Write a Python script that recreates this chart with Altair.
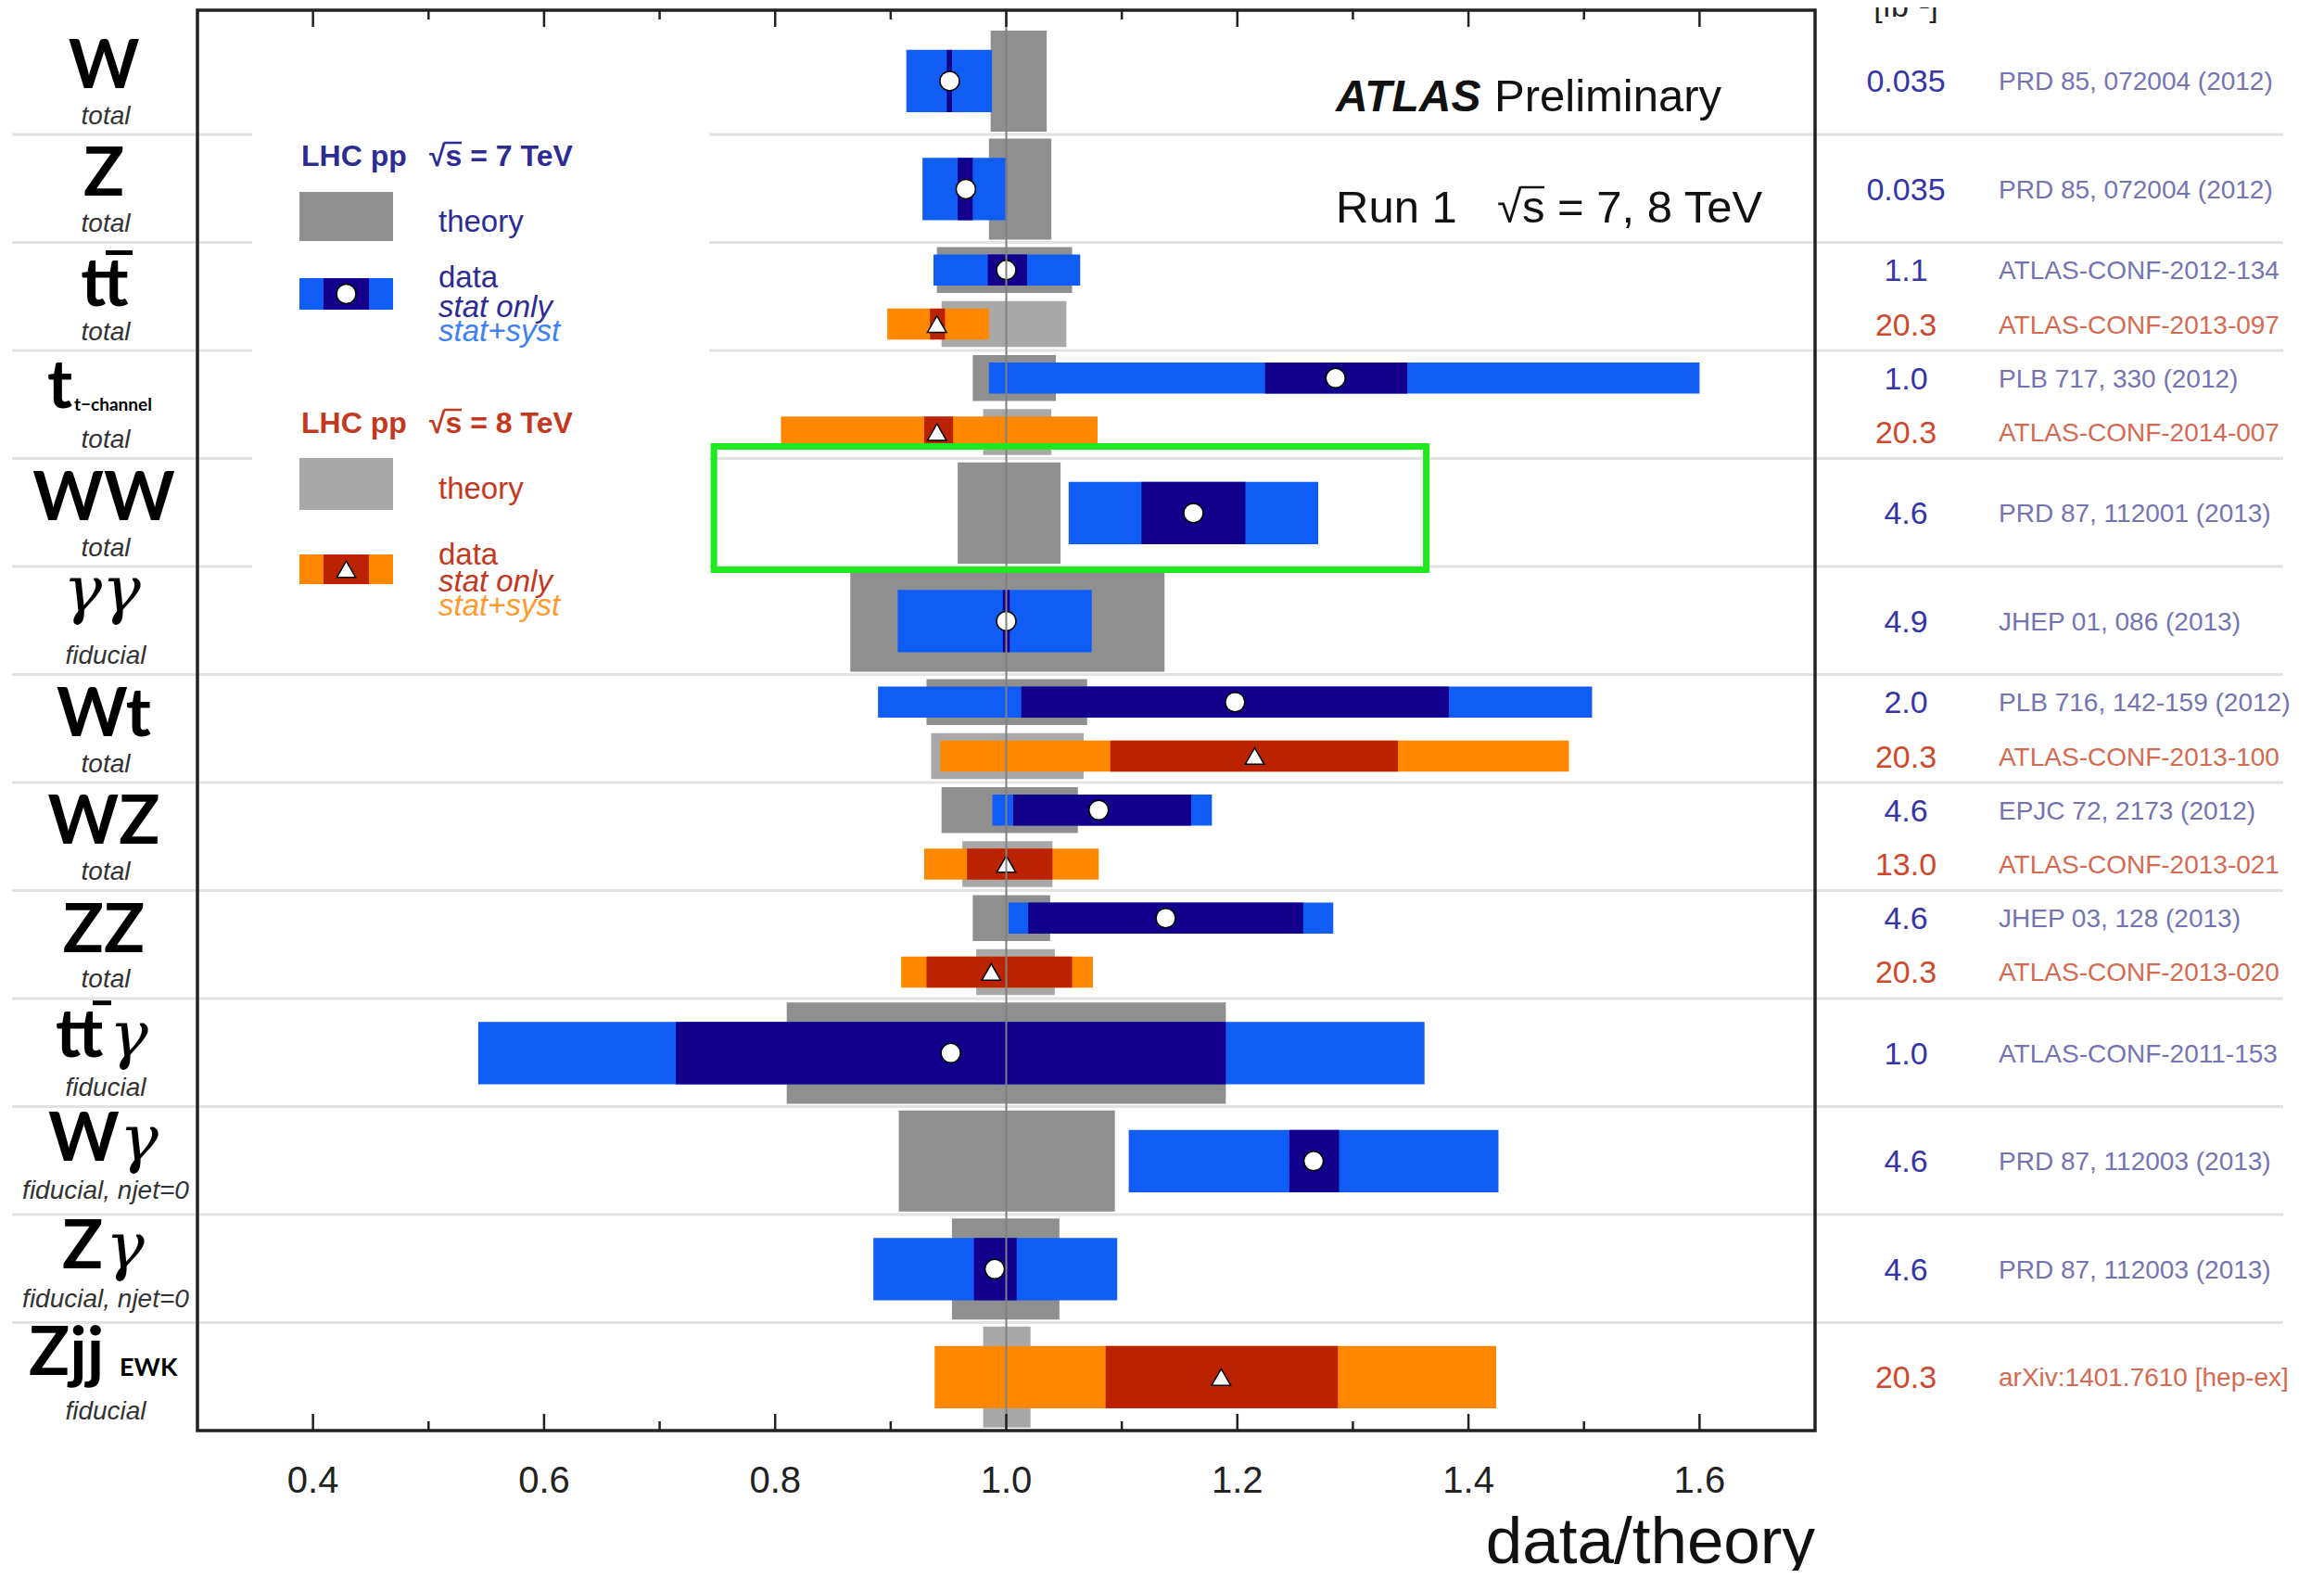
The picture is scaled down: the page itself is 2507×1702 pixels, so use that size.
import altair as alt
import pandas as pd

# ---------------- chart content ----------------
process_main = ["W", "Z", "tt", "t", "WW", "", "Wt", "WZ", "ZZ", "tt", "W", "Z", "Zjj"]
process_greek = ["", "", "", "", "", "γγ", "", "", "", "γ", "γ", "γ", ""]
process_sub = ["", "", "", "t−channel", "", "", "", "", "", "", "", "", "EWK"]
process_scope = ["total", "total", "total", "total", "total", "fiducial", "total", "total",
                 "total", "fiducial", "fiducial, njet=0", "fiducial, njet=0", "fiducial"]

meas_row = [0, 1, 2, 2, 3, 3, 4, 5, 6, 6, 7, 7, 8, 8, 9, 10, 11, 12]
meas_energy = [7, 7, 7, 8, 7, 8, 7, 7, 7, 8, 7, 8, 7, 8, 7, 7, 7, 8]
theory_lo = [0.9865, 0.985, 0.940, 0.944, 0.971, 0.980, 0.958, 0.865, 0.931, 0.935,
             0.944, 0.962, 0.971, 0.974, 0.810, 0.907, 0.953, 0.980]
theory_hi = [1.035, 1.039, 1.057, 1.052, 1.043, 1.039, 1.047, 1.137, 1.070, 1.067,
             1.062, 1.040, 1.038, 1.042, 1.190, 1.094, 1.046, 1.021]
central = [0.951, 0.965, 1.000, 0.940, 1.285, 0.940, 1.162, 1.000, 1.198, 1.215,
           1.080, 1.000, 1.138, 0.987, 0.952, 1.266, 0.990, 1.186]
stat_lo = [0.9485, 0.958, 0.984, 0.934, 1.224, 0.929, 1.117, 0.997, 1.013, 1.090,
           1.006, 0.966, 1.019, 0.931, 0.714, 1.245, 0.972, 1.086]
stat_hi = [0.953, 0.971, 1.018, 0.947, 1.347, 0.954, 1.207, 1.003, 1.383, 1.339,
           1.160, 1.040, 1.257, 1.057, 1.190, 1.288, 1.009, 1.287]
total_lo = [0.9135, 0.9275, 0.937, 0.897, 0.985, 0.805, 1.054, 0.906, 0.889, 0.943,
            0.988, 0.929, 1.002, 0.909, 0.543, 1.106, 0.885, 0.938]
total_hi = [0.9876, 1.0006, 1.064, 0.985, 1.600, 1.079, 1.270, 1.074, 1.507, 1.487,
            1.178, 1.080, 1.283, 1.075, 1.362, 1.426, 1.096, 1.424]
lumi_fb = ["0.035", "0.035", "1.1", "20.3", "1.0", "20.3", "4.6", "4.9", "2.0", "20.3",
           "4.6", "13.0", "4.6", "20.3", "1.0", "4.6", "4.6", "20.3"]
references = ["PRD 85, 072004 (2012)", "PRD 85, 072004 (2012)", "ATLAS-CONF-2012-134",
              "ATLAS-CONF-2013-097", "PLB 717, 330 (2012)", "ATLAS-CONF-2014-007",
              "PRD 87, 112001 (2013)", "JHEP 01, 086 (2013)", "PLB 716, 142-159 (2012)",
              "ATLAS-CONF-2013-100", "EPJC 72, 2173 (2012)", "ATLAS-CONF-2013-021",
              "JHEP 03, 128 (2013)", "ATLAS-CONF-2013-020", "ATLAS-CONF-2011-153",
              "PRD 87, 112003 (2013)", "PRD 87, 112003 (2013)", "arXiv:1401.7610 [hep-ex]"]
x_major_ticks = [0.4, 0.6, 0.8, 1.0, 1.2, 1.4, 1.6]
x_minor_ticks = [0.5, 0.7, 0.9, 1.1, 1.3, 1.5]
x_tick_labels = ["0.4", "0.6", "0.8", "1.0", "1.2", "1.4", "1.6"]
highlight_x = [0.747, 1.3635]     # green box around WW
highlight_rows = [3.888, 5.029]

# ---------------- layout / style ----------------
W, H = 1745, 1532
N_ROWS = len(process_main)
xscale = alt.Scale(domain=[0.3, 1.7], nice=False, zero=False)
yscale = alt.Scale(domain=[-0.151, N_ROWS], reverse=True, nice=False, zero=False)

C = {
    "th7": "#8f8f8f", "th8": "#a8a8a8",
    "tot7": "#0f5df5", "tot8": "#ff8800",
    "stat7": "#12008c", "stat8": "#bb2300",
    "txt7": "#2c2c94", "txt8": "#c3381f",
    "syst7": "#3d80f7", "syst8": "#ff9a30",
    "lumi7": "#3535a8", "lumi8": "#cf472d",
    "ref7": "#7474b4", "ref8": "#d46a52",
}
SANS = "Liberation Sans"

# build measurement table
counts = {r: meas_row.count(r) for r in set(meas_row)}
seen = {}
recs = []
for i, r in enumerate(meas_row):
    k = seen.get(r, 0)
    seen[r] = k + 1
    if counts[r] == 1:
        c, th_h, d_h = r + 0.505, 0.468, 0.288
    else:
        c, th_h, d_h = r + 0.255 + 0.5 * k, 0.212, 0.143
    e = meas_energy[i]
    recs.append(dict(
        e=e, c=c, th1=c - th_h, th2=c + th_h, d1=c - d_h, d2=c + d_h,
        thlo=theory_lo[i], thhi=theory_hi[i], cen=central[i],
        slo=stat_lo[i], shi=stat_hi[i], tlo=total_lo[i], thi=total_hi[i],
        lumi=lumi_fb[i], ref=references[i],
        cth=C["th%d" % e], ctot=C["tot%d" % e], cstat=C["stat%d" % e],
    ))
M = pd.DataFrame(recs)

one = pd.DataFrame({"a": [0]})


def band(lo, hi, y1, y2, col):
    return alt.Chart(M).mark_rect().encode(
        x=alt.X(lo + ":Q", scale=xscale, axis=None), x2=hi + ":Q",
        y=alt.Y(y1 + ":Q", scale=yscale, axis=None), y2=y2 + ":Q",
        color=alt.Color(col + ":N", scale=None))


def ptext(rows, size, color, align="left", style="normal", weight="bold", font=SANS):
    df = pd.DataFrame(rows, columns=["x", "y", "t"])
    return alt.Chart(df).mark_text(font=font, fontSize=size, color=color, align=align,
                                   fontStyle=style, fontWeight=weight, baseline="alphabetic").encode(
        x=alt.X("x:Q", scale=None, axis=None), y=alt.Y("y:Q", scale=None, axis=None), text="t:N")


def prule(rows, color, width):
    df = pd.DataFrame(rows, columns=["x", "x2", "y"])
    return alt.Chart(df).mark_rule(color=color, strokeWidth=width).encode(
        x=alt.X("x:Q", scale=None, axis=None), x2="x2:Q", y=alt.Y("y:Q", scale=None, axis=None))


layers = []

# row separators
sep = pd.DataFrame({"b": list(range(1, N_ROWS))})
layers.append(alt.Chart(sep).mark_rule(color="#e2e2e2", strokeWidth=3).encode(
    y=alt.Y("b:Q", scale=yscale, axis=None), x=alt.value(-200), x2=alt.value(2250)))

# legend background box
layers.append(alt.Chart(one).mark_rect(color="white").encode(
    x=alt.value(59), x2=alt.value(552), y=alt.value(124), y2=alt.value(679)))

# bands
layers.append(band("thlo", "thhi", "th1", "th2", "cth"))
layers.append(band("tlo", "thi", "d1", "d2", "ctot"))
layers.append(band("slo", "shi", "d1", "d2", "cstat"))

# markers
for e, shape in ((7, "circle"), (8, "triangle-up")):
    layers.append(alt.Chart(M[M.e == e]).mark_point(
        shape=shape, filled=True, fill="white", stroke="black", strokeWidth=1.5,
        size=440 if e == 7 else 420, opacity=1).encode(
        x=alt.X("cen:Q", scale=xscale, axis=None), y=alt.Y("c:Q", scale=yscale, axis=None)))

# line at data/theory = 1
layers.append(alt.Chart(pd.DataFrame({"v": [1.0]})).mark_rule(color="#808080", strokeWidth=2).encode(
    x=alt.X("v:Q", scale=xscale, axis=None), y=alt.value(0), y2=alt.value(H)))

# frame and ticks
layers.append(alt.Chart(one).mark_rect(fillOpacity=0, stroke="#222222", strokeWidth=3.5).encode(
    x=alt.value(0), x2=alt.value(W), y=alt.value(0), y2=alt.value(H)))
for vals, ln in ((x_major_ticks, 18), (x_minor_ticks, 10)):
    tdf = pd.DataFrame({"v": vals})
    layers.append(alt.Chart(tdf).mark_rule(color="#222222", strokeWidth=2.5).encode(
        x=alt.X("v:Q", scale=xscale, axis=None), y=alt.value(H), y2=alt.value(H - ln)))
    layers.append(alt.Chart(tdf).mark_rule(color="#222222", strokeWidth=2.5).encode(
        x=alt.X("v:Q", scale=xscale, axis=None), y=alt.value(0), y2=alt.value(ln)))

# tick labels and axis title
layers.append(alt.Chart(pd.DataFrame({"v": x_major_ticks, "t": x_tick_labels})).mark_text(
    font=SANS, fontSize=40, color="#222222", align="center", baseline="alphabetic").encode(
    x=alt.X("v:Q", scale=xscale, axis=None), y=alt.value(1599), text="t:N"))
layers.append(ptext([(W, 1675, "data/theory")], 71, "#111111", align="right", weight="normal"))

# process labels (left)
name_layout = {  # row: (x_main, align, baseline offset in rows, x_extra, extra offset)
    0: (-101, "center", 0.567, None, None),
    1: (-101, "center", 0.567, None, None),
    2: (-100, "center", 0.585, None, None),
    3: (-162, "left", 0.532, -133, 0.561),
    4: (-101, "center", 0.567, None, None),
    5: (-103, "center", 0.416, -103, 0.416),
    6: (-101, "center", 0.567, None, None),
    7: (-101, "center", 0.567, None, None),
    8: (-101, "center", 0.567, None, None),
    9: (-153, "left", 0.541, -95, 0.541),
    10: (-161, "left", 0.498, -84, 0.498),
    11: (-146, "left", 0.498, -99, 0.498),
    12: (-182, "left", 0.481, -84, 0.490),
}
main_rows, greek_rows, sub_rows, ewk_rows = [], [], [], []
for r in range(N_ROWS):
    xm, al, off, xe, offe = name_layout[r]
    if process_main[r]:
        main_rows.append(dict(x=xm, y=r + off, t=process_main[r], al=al))
    if process_greek[r]:
        greek_rows.append(dict(x=xe, y=r + offe, t=process_greek[r],
                               al="center" if not process_main[r] else "left"))
    if process_sub[r]:
        (ewk_rows if process_sub[r] == "EWK" else sub_rows).append(dict(x=xe, y=r + offe, t=process_sub[r]))


def rowtext(rows, size, color, font, align, style="normal", weight="normal"):
    df = pd.DataFrame(rows)
    return alt.Chart(df).mark_text(font=font, fontSize=size, color=color, align=align,
                                   fontStyle=style, fontWeight=weight, baseline="alphabetic").encode(
        x=alt.X("x:Q", scale=None, axis=None), y=alt.Y("y:Q", scale=yscale, axis=None), text="t:N")


mr = pd.DataFrame(main_rows)
layers.append(rowtext(mr[mr.al == "center"], 73, "#000000", "Lato", "center", weight="bold"))
layers.append(rowtext(mr[mr.al == "left"], 73, "#000000", "Lato", "left", weight="bold"))
gr = pd.DataFrame(greek_rows)
layers.append(rowtext(gr[gr.al == "center"], 70, "#000000", "DejaVu Serif", "center", style="italic"))
layers.append(rowtext(gr[gr.al == "left"], 70, "#000000", "DejaVu Serif", "left", style="italic"))
layers.append(rowtext(sub_rows, 19, "#000000", "Lato", "left", weight="bold"))
layers.append(rowtext(ewk_rows, 27, "#000000", "Lato", "left", weight="bold"))
scope_rows = [dict(x=-99, y=r + (0.858 if "njet" in s else 0.901), t=s) for r, s in enumerate(process_scope)]
layers.append(rowtext(scope_rows, 28, "#333333", SANS, "center", style="italic"))

# overbars of t-bar
bars = pd.DataFrame({"x": [-99, -113], "x2": [-70, -93], "y": [2.094, 9.04]})
layers.append(alt.Chart(bars).mark_rule(color="#000000", strokeWidth=5).encode(
    x=alt.X("x:Q", scale=None, axis=None), x2="x2:Q", y=alt.Y("y:Q", scale=yscale, axis=None)))

# luminosities and references (right)
for e in (7, 8):
    sub = M[M.e == e]
    layers.append(alt.Chart(sub).mark_text(font=SANS, fontSize=34, color=C["lumi%d" % e], align="center",
                                           baseline="alphabetic", dy=12).encode(
        x=alt.value(1843), y=alt.Y("c:Q", scale=yscale, axis=None), text="lumi:N"))
    layers.append(alt.Chart(sub).mark_text(font=SANS, fontSize=28, color=C["ref%d" % e], align="left",
                                           baseline="alphabetic", dy=10).encode(
        x=alt.value(1943), y=alt.Y("c:Q", scale=yscale, axis=None), text="ref:N"))
layers.append(ptext([(1843, 7, "[fb⁻¹]")], 34, "#222222", align="center", weight="normal"))

# ATLAS label
layers.append(ptext([(1228, 109, "ATLAS")], 48, "#111111", style="italic", weight="bold"))
layers.append(ptext([(1399, 109, "Preliminary"), (1228, 229, "Run 1"), (1402, 229, "√s = 7, 8 TeV")],
                    49, "#111111", weight="normal"))
layers.append(prule([(1427, 1453, 191)], "#111111", 2.5))

# legend
sw = pd.DataFrame([
    (110, 211, 196, 249, C["th7"]), (110, 211, 289, 323, C["tot7"]), (136, 185, 289, 323, C["stat7"]),
    (110, 211, 483, 539, C["th8"]), (110, 211, 587, 619, C["tot8"]), (136, 185, 587, 619, C["stat8"]),
], columns=["x", "x2", "y", "y2", "col"])
layers.append(alt.Chart(sw).mark_rect().encode(
    x=alt.X("x:Q", scale=None, axis=None), x2="x2:Q", y=alt.Y("y:Q", scale=None, axis=None), y2="y2:Q",
    color=alt.Color("col:N", scale=None)))
for (px, py, shape, sz) in ((160.5, 306, "circle", 440), (160.5, 603, "triangle-up", 420)):
    layers.append(alt.Chart(pd.DataFrame({"x": [px], "y": [py]})).mark_point(
        shape=shape, filled=True, fill="white", stroke="black", strokeWidth=1.5, size=sz, opacity=1).encode(
        x=alt.X("x:Q", scale=None, axis=None), y=alt.Y("y:Q", scale=None, axis=None)))
layers.append(ptext([(112, 168, "LHC pp"), (250, 168, "√s = 7 TeV")], 32, C["txt7"]))
layers.append(ptext([(112, 456, "LHC pp"), (250, 456, "√s = 8 TeV")], 32, C["txt8"]))
layers.append(prule([(266, 285, 143)], C["txt7"], 2.5))
layers.append(prule([(266, 285, 431)], C["txt8"], 2.5))
layers.append(ptext([(260, 239, "theory"), (260, 299, "data")], 33, C["txt7"], weight="normal"))
layers.append(ptext([(260, 331, "stat only")], 33, C["txt7"], style="italic", weight="normal"))
layers.append(ptext([(260, 357, "stat+syst")], 33, C["syst7"], style="italic", weight="normal"))
layers.append(ptext([(260, 527, "theory"), (260, 598, "data")], 33, C["txt8"], weight="normal"))
layers.append(ptext([(260, 627, "stat only")], 33, C["txt8"], style="italic", weight="normal"))
layers.append(ptext([(260, 653, "stat+syst")], 33, C["syst8"], style="italic", weight="normal"))

# green highlight box
hl = pd.DataFrame({"x": [highlight_x[0]], "x2": [highlight_x[1]], "y": [highlight_rows[0]], "y2": [highlight_rows[1]]})
layers.append(alt.Chart(hl).mark_rect(fillOpacity=0, stroke="#1ee81e", strokeWidth=7).encode(
    x=alt.X("x:Q", scale=xscale, axis=None), x2="x2:Q",
    y=alt.Y("y:Q", scale=yscale, axis=None), y2="y2:Q"))

chart = alt.layer(*layers).properties(
    width=W, height=H,
    autosize=alt.AutoSizeParams(type="none"),
    padding={"left": 205, "top": 3, "right": 541, "bottom": 151},
    background="white",
).configure_view(stroke=None)

chart.save("out.html", embed_options={"renderer": "svg", "actions": False})
